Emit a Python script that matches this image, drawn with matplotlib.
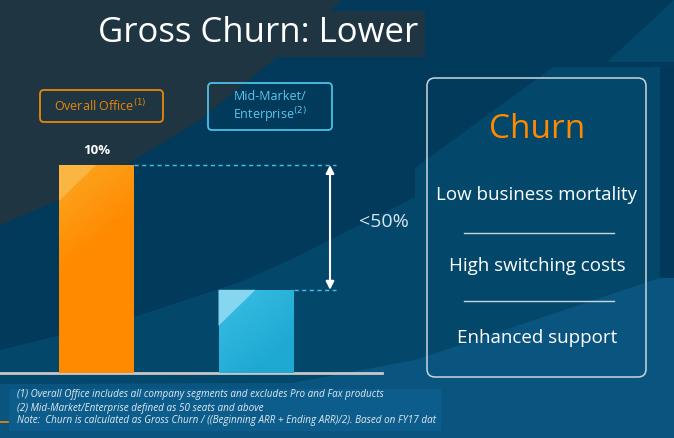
import numpy as np
import matplotlib
matplotlib.use("Agg")
import matplotlib.pyplot as plt
from matplotlib.patches import Polygon, Rectangle, FancyBboxPatch
from matplotlib.colors import LinearSegmentedColormap

# data
categories   = ["Overall Office", "Mid-Market/\nEnterprise"]
cat_marks    = ["(1)", "(2)"]
churn_pct    = [10.0, 4.0]
value_labels = ["10%", ""]
gap_label    = "<50%"
title        = "Gross Churn: Lower"
panel_title  = "Churn"
panel_items  = ["Low business mortality", "High switching costs", "Enhanced support"]
footnotes    = [
    "(1) Overall Office includes all company segments and excludes Pro and Fax products",
    "(2) Mid-Market/Enterprise defined as 50 seats and above",
    "Note:  Churn is calculated as Gross Churn / ((Beginning ARR + Ending ARR)/2). Based on FY17 dat",
]

W, H = 674, 438
SLATE  = "#1f3541"
NAVY   = "#023a5b"
LIGHT1 = "#03476b"
LIGHT2 = "#0a5580"
FOOT   = "#0d5d8c"
ORANGE = "#ff8a00"
CYAN   = "#4dbfe6"

plt.rcParams["font.family"] = ["Open Sans", "DejaVu Sans"]

fig = plt.figure(figsize=(W / 100, H / 100), dpi=100)
fig.patch.set_facecolor(NAVY)

# background layer in pixel coordinates
bg = fig.add_axes([0, 0, 1, 1])
bg.set_xlim(0, W)
bg.set_ylim(H, 0)
bg.axis("off")

bg.add_patch(Polygon([(0, 0), (342, 0), (277, 57), (200, 120), (134, 160), (59, 200), (0, 225)],
                     closed=True, color=SLATE, lw=0))
bg.add_patch(Polygon([(0, 350), (134, 317), (240, 282), (290, 260), (415, 197), (415, 168),
                      (553, 67), (660, 67), (660, 438), (0, 438)], closed=True, color=LIGHT1, lw=0))
bg.add_patch(Polygon([(607, 62), (674, 0), (674, 62)], closed=True, color=LIGHT1, lw=0))
bg.add_patch(Rectangle((660, 67), 14, 311, color="#02385a", lw=0))
bg.add_patch(Polygon([(0, 384), (292, 383), (415, 360), (660, 278), (674, 278), (674, 438), (0, 438)],
                     closed=True, color=LIGHT2, lw=0))
bg.add_patch(Rectangle((9, 389), 432, 42, color=FOOT, lw=0))
bg.plot([0, 8], [422, 422], color="#f08a00", lw=1.2)

# title
bg.add_patch(Rectangle((92, 11), 333, 46, color=SLATE, lw=0))
bg.text(258, 33, title, color="white", fontsize=25, ha="center", va="center")

# category label boxes
bg.add_patch(FancyBboxPatch((40, 90), 123, 32, boxstyle="round,pad=0,rounding_size=4",
                            fc="none", ec="#e8870c", lw=1.3))
bg.text(100, 106, categories[0] + "$^{" + cat_marks[0] + "}$", color="#e8870c",
        fontsize=9, ha="center", va="center")
bg.add_patch(FancyBboxPatch((208, 83), 124, 47, boxstyle="round,pad=0,rounding_size=4",
                            fc="none", ec=CYAN, lw=1.3))
bg.text(270, 107, categories[1] + "$^{" + cat_marks[1] + "}$", color="#5cc6ec",
        fontsize=9, ha="center", va="center", linespacing=1.2)

# right-hand panel
bg.add_patch(FancyBboxPatch((427, 78), 219, 299, boxstyle="round,pad=0,rounding_size=8",
                            fc="none", ec="#c9d6de", lw=1.1))
bg.text(537, 129, panel_title, color=ORANGE, fontsize=24, ha="center", va="center")
for y, item in zip([195, 266, 338], panel_items):
    bg.text(537, y, item, color="white", fontsize=13.5, ha="center", va="center")
for y in [233, 301]:
    bg.plot([464, 614], [y, y], color="#c9d6de", lw=1)

# footnotes
for y, note in zip([395, 408, 421], footnotes):
    bg.text(17, y, note, color="#e2eaf0", fontsize=7.1, style="italic", ha="left", va="center")

# bar chart axes, baseline at y=373 px
base_px, top_px, right_px = 373, 125, 382
px_per_unit = 20.8
px_per_x = 159.5
x0_px = 96.5
ax = fig.add_axes([0, (H - base_px) / H, right_px / W, (base_px - top_px) / H])
ax.patch.set_visible(False)
for s in ["top", "right", "left"]:
    ax.spines[s].set_visible(False)
ax.spines["bottom"].set_color("#c8c8c8")
ax.spines["bottom"].set_linewidth(2)
ax.set_xticks([])
ax.set_yticks([])

xs = np.arange(len(churn_pct))
bw = 75 / px_per_x
bars = ax.bar(xs, churn_pct, width=bw, color=[ORANGE, "#1ea9d3"], zorder=2)

grads = [LinearSegmentedColormap.from_list("o", ["#fca824", ORANGE]),
         LinearSegmentedColormap.from_list("b", ["#3cbfe4", "#1ea9d3"])]
hilite = ["#fbb541", "#86d6f0"]
gy, gx = np.mgrid[0:1:200j, 0:1:60j]
for bar, cmap, hc in zip(bars, grads, hilite):
    x_l = bar.get_x()
    x_r = x_l + bar.get_width()
    h = bar.get_height()
    # diagonal shading measured in pixels from the top-left corner
    t = np.clip((gy * h * px_per_unit + gx * 75 * 0.8) / 110, 0, 1)
    im = ax.imshow(t, extent=[x_l, x_r, 0, h], origin="upper", cmap=cmap,
                   aspect="auto", zorder=3)
    im.set_clip_path(bar)
    leg_x = 37 / px_per_x
    leg_y = 36 / px_per_unit
    ax.add_patch(Polygon([(x_l, h), (x_l + leg_x, h), (x_l, h - leg_y)], closed=True,
                         color=hc, lw=0, zorder=4))

for bar, lab in zip(bars, value_labels):
    if lab:
        ax.annotate(lab, (bar.get_x() + bar.get_width() / 2, bar.get_height()),
                    xytext=(0, 6), textcoords="offset points", ha="center", va="bottom",
                    color="white", fontsize=9.5, fontweight="bold")

arrow_x = (330 - x0_px) / px_per_x
dash_end = (336 - x0_px) / px_per_x
for bar in bars:
    ax.plot([bar.get_x() + bar.get_width(), dash_end], [bar.get_height()] * 2,
            color=CYAN, lw=1, ls=(0, (3, 2.5)), zorder=2)
ax.annotate("", xy=(arrow_x, churn_pct[0]), xytext=(arrow_x, churn_pct[1]),
            arrowprops=dict(arrowstyle="<|-|>", color="white", lw=1.5,
                            mutation_scale=12, shrinkA=0, shrinkB=0), zorder=5)
ax.text(arrow_x + 54 / px_per_x, (churn_pct[0] + churn_pct[1]) / 2 + 0.25, gap_label,
        color="#d8e4ec", fontsize=14, ha="center", va="center", clip_on=False)

ax.set_xlim(-x0_px / px_per_x, (right_px - x0_px) / px_per_x)
ax.set_ylim(0, (base_px - top_px) / px_per_unit)

fig.savefig("out.png", dpi=100, facecolor=fig.get_facecolor())
